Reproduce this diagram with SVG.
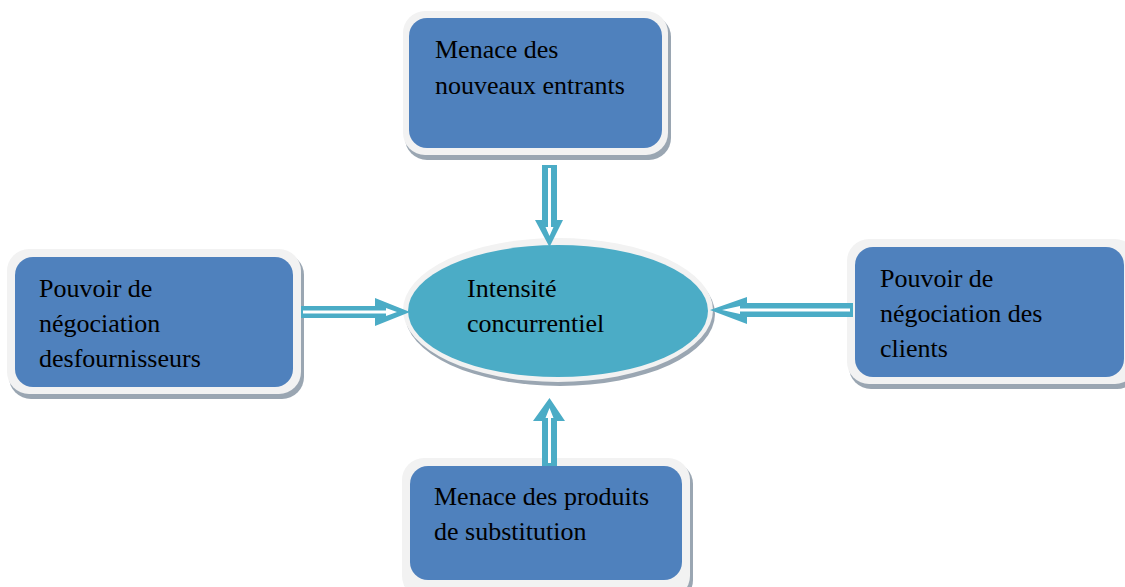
<svg xmlns="http://www.w3.org/2000/svg" width="1125" height="587" viewBox="0 0 1125 587">
<style>
.shadow{fill:#9AA6B2}
.frame{fill:#F2F2F2}
.box{fill:#4F81BD}
.oval{fill:#4BACC6}
.arrow{fill:#4BACC6}
.inner{fill:#FFFFFF}
.t{font-family:'Liberation Serif','Times New Roman',Tinos,'Nimbus Roman','Noto Serif','DejaVu Serif',FreeSerif,serif;font-size:26px;fill:#000000}
</style>
<rect width="1125" height="587" fill="#FFFFFF"/>
<g id="node-nouveaux">
<rect class="shadow" x="405" y="15" width="266" height="145" rx="22"/>
<rect class="frame" x="403" y="11" width="265" height="144" rx="22"/>
<rect class="box" x="409" y="18" width="253" height="130" rx="18"/>
<text class="t" x="435" y="58">Menace des</text>
<text class="t" x="435" y="94">nouveaux entrants</text>
</g>
<g id="node-fournisseurs">
<rect class="shadow" x="9" y="253" width="295" height="146" rx="22"/>
<rect class="frame" x="7" y="249" width="294" height="145" rx="22"/>
<rect class="box" x="15" y="257" width="278" height="130" rx="18"/>
<text class="t" x="39" y="297">Pouvoir de</text>
<text class="t" x="39" y="332">négociation</text>
<text class="t" x="39" y="367">desfournisseurs</text>
</g>
<g id="node-clients">
<rect class="shadow" x="849" y="243" width="290" height="146" rx="22"/>
<rect class="frame" x="847" y="239" width="290" height="145" rx="22"/>
<rect class="box" x="855" y="247" width="269" height="130" rx="18"/>
<text class="t" x="880" y="287">Pouvoir de</text>
<text class="t" x="880" y="322">négociation des</text>
<text class="t" x="880" y="357">clients</text>
</g>
<g id="node-substitution">
<rect class="shadow" x="404" y="462" width="289" height="140" rx="22"/>
<rect class="frame" x="402" y="458" width="288" height="140" rx="22"/>
<rect class="box" x="410" y="466" width="272" height="114" rx="18"/>
<text class="t" x="434" y="505">Menace des produits</text>
<text class="t" x="434" y="540">de substitution</text>
</g>
<g id="node-intensite">
<ellipse class="shadow" cx="560" cy="314" rx="155" ry="72"/>
<ellipse class="frame" cx="558" cy="310" rx="155" ry="72"/>
<ellipse class="oval" cx="558" cy="311" rx="150" ry="66"/>
<text class="t" x="467" y="297">Intensité</text>
<text class="t" x="467" y="332">concurrentiel</text>
</g>
<g id="connectors">
<polygon class="arrow" points="542,165 557,165 557,220 563,220 549.5,247 535,220 542,220"/>
<polygon class="inner" points="548,168 551,168 551,227 553.5,227 549.5,236 545.5,227 548,227"/>
<polygon class="arrow" points="301,306 375,306 375,298 410,312 375,326 375,318 301,318"/>
<polygon class="inner" points="303,310.5 386,310.5 386,308 397,312 386,316 386,313.5 303,313.5"/>
<polygon class="arrow" points="853,303 747,303 747,297 710,310 747,324 747,317 853,317"/>
<polygon class="inner" points="850,308.5 740,308.5 740,306 722,310 740,314 740,311.5 850,311.5"/>
<polygon class="arrow" points="542,466 542,421 533,421 549.5,398 565,421 557,421 557,466"/>
<polygon class="inner" points="548,463 548,418 545.5,418 549.5,408 553.5,418 551,418 551,463"/>
</g>
</svg>
